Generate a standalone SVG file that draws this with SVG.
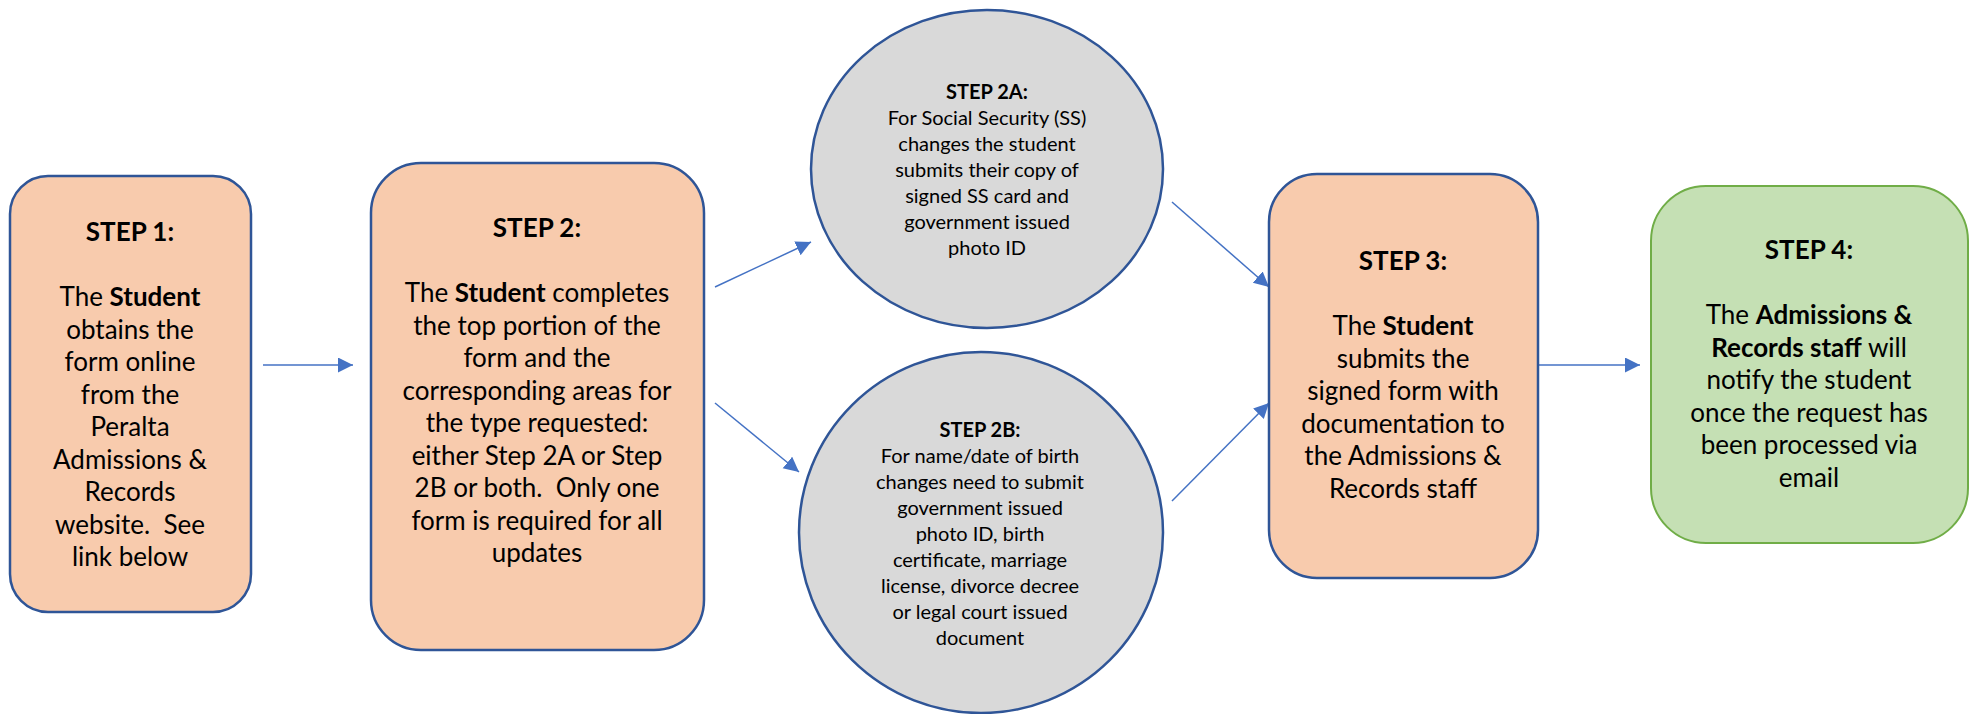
<svg xmlns="http://www.w3.org/2000/svg" width="1977" height="714" viewBox="0 0 1977 714">
<defs>
<style>
.box{fill:#F8CBAD;stroke:#2F5597;stroke-width:2.5}
.green{fill:#C5E0B4;stroke:#70AD47;stroke-width:2}
.circ{fill:#D9D9D9;stroke:#2F5597;stroke-width:2.5}
text{font-family:Lato,"Open Sans","Liberation Sans",sans-serif;fill:#000;text-anchor:middle;white-space:pre}
.t{font-size:26px}
.s{font-size:20px}
.b{font-weight:bold}
.conn{stroke:#4472C4;stroke-width:1.5;fill:none;marker-end:url(#ah)}
</style>
<marker id="ah" markerUnits="userSpaceOnUse" markerWidth="16" markerHeight="16" refX="15" refY="7.5" orient="auto">
<path d="M0,0 L15,7.5 L0,15 z" fill="#4472C4"/>
</marker>
</defs>
<rect width="1977" height="714" fill="#fff"/>
<g id="connectors">
<line class="conn" x1="263" y1="365" x2="353" y2="365"/>
<line class="conn" x1="715" y1="287" x2="811" y2="242"/>
<line class="conn" x1="715" y1="403" x2="799" y2="472"/>
<line class="conn" x1="1172" y1="202" x2="1269" y2="287"/>
<line class="conn" x1="1172" y1="501" x2="1269" y2="403"/>
<line class="conn" x1="1538" y1="365" x2="1640" y2="365"/>
</g>
<g id="step1">
<rect class="box" x="10" y="176" width="241" height="436" rx="38" ry="38"/>
<text class="t b" x="130" y="241">STEP 1:</text>
<text class="t" x="130" y="306">The <tspan class="b">Student</tspan></text>
<text class="t" x="130" y="338.5">obtains the</text>
<text class="t" x="130" y="371">form online</text>
<text class="t" x="130" y="403.5">from the</text>
<text class="t" x="130" y="436">Peralta</text>
<text class="t" x="130" y="468.5">Admissions &amp;</text>
<text class="t" x="130" y="501">Records</text>
<text class="t" x="130" y="533.5" xml:space="preserve">website.  See</text>
<text class="t" x="130" y="566">link below</text>
</g>
<g id="step2">
<rect class="box" x="371" y="163" width="333" height="487" rx="50" ry="50"/>
<text class="t b" x="537" y="237">STEP 2:</text>
<text class="t" x="537" y="302">The <tspan class="b">Student</tspan> completes</text>
<text class="t" x="537" y="334.5">the top portion of the</text>
<text class="t" x="537" y="367">form and the</text>
<text class="t" x="537" y="399.5">corresponding areas for</text>
<text class="t" x="537" y="432">the type requested:</text>
<text class="t" x="537" y="464.5">either Step 2A or Step</text>
<text class="t" x="537" y="497" xml:space="preserve">2B or both.  Only one</text>
<text class="t" x="537" y="529.5">form is required for all</text>
<text class="t" x="537" y="562">updates</text>
</g>
<g id="step2a">
<ellipse class="circ" cx="987" cy="169" rx="176" ry="159"/>
<text class="s b" x="987" y="99">STEP 2A:</text>
<text class="s" x="987" y="125">For Social Security (SS)</text>
<text class="s" x="987" y="151">changes the student</text>
<text class="s" x="987" y="177">submits their copy of</text>
<text class="s" x="987" y="203">signed SS card and</text>
<text class="s" x="987" y="229">government issued</text>
<text class="s" x="987" y="255">photo ID</text>
</g>
<g id="step2b">
<ellipse class="circ" cx="981" cy="532.5" rx="182" ry="180.5"/>
<text class="s b" x="980" y="437">STEP 2B:</text>
<text class="s" x="980" y="463">For name/date of birth</text>
<text class="s" x="980" y="489">changes need to submit</text>
<text class="s" x="980" y="515">government issued</text>
<text class="s" x="980" y="541">photo ID, birth</text>
<text class="s" x="980" y="567">certificate, marriage</text>
<text class="s" x="980" y="593">license, divorce decree</text>
<text class="s" x="980" y="619">or legal court issued</text>
<text class="s" x="980" y="645">document</text>
</g>
<g id="step3">
<rect class="box" x="1269" y="174" width="269" height="404" rx="48" ry="48"/>
<text class="t b" x="1403" y="270">STEP 3:</text>
<text class="t" x="1403" y="335">The <tspan class="b">Student</tspan></text>
<text class="t" x="1403" y="367.5">submits the</text>
<text class="t" x="1403" y="400">signed form with</text>
<text class="t" x="1403" y="432.5">documentation to</text>
<text class="t" x="1403" y="465">the Admissions &amp;</text>
<text class="t" x="1403" y="497.5">Records staff</text>
</g>
<g id="step4">
<rect class="green" x="1651" y="186" width="317" height="357" rx="55" ry="55"/>
<text class="t b" x="1809" y="259">STEP 4:</text>
<text class="t" x="1809" y="324">The <tspan class="b">Admissions &amp;</tspan></text>
<text class="t" x="1809" y="356.5"><tspan class="b">Records staff</tspan> will</text>
<text class="t" x="1809" y="389">notify the student</text>
<text class="t" x="1809" y="421.5">once the request has</text>
<text class="t" x="1809" y="454">been processed via</text>
<text class="t" x="1809" y="486.5">email</text>
</g>
</svg>
